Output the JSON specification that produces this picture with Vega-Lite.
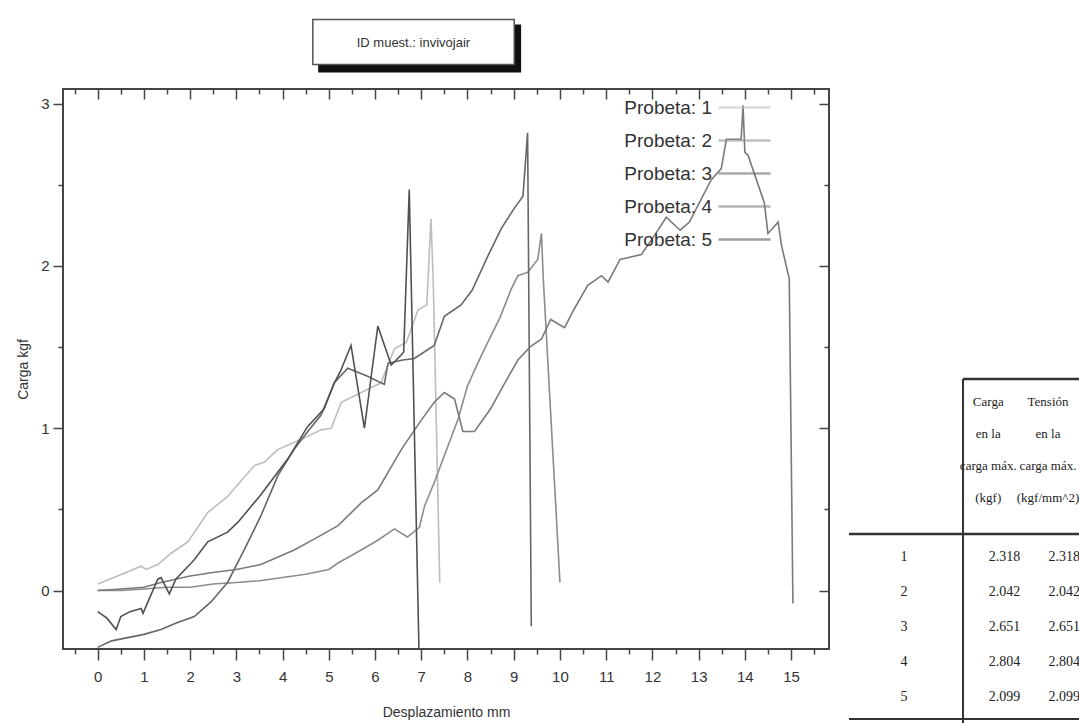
{
  "$schema": "https://vega.github.io/schema/vega-lite/v6.json",
  "autosize": {"type": "pad"},
  "padding": {"left": 15, "top": 17, "right": 0, "bottom": 0},
  "background": "white",
  "bounds": "flush",
  "spacing": 20,
  "config": {
    "view": {"stroke": "#444", "strokeWidth": 2},
    "font": "Liberation Sans",
    "axis": {"grid": false, "domain": false, "tickColor": "#444", "tickWidth": 1.5}
  },
  "datasets": {
    "curvas": [
      {"p": "Probeta: 1", "x": 0, "y": 0.04}, {"p": "Probeta: 1", "x": 0.43, "y": 0.09}, {"p": "Probeta: 1", "x": 0.94, "y": 0.15}, {"p": "Probeta: 1", "x": 1.05, "y": 0.13}, {"p": "Probeta: 1", "x": 1.3, "y": 0.16}, {"p": "Probeta: 1", "x": 1.59, "y": 0.23}, {"p": "Probeta: 1", "x": 1.95, "y": 0.3}, {"p": "Probeta: 1", "x": 2.38, "y": 0.48}, {"p": "Probeta: 1", "x": 2.81, "y": 0.58}, {"p": "Probeta: 1", "x": 3.39, "y": 0.77}, {"p": "Probeta: 1", "x": 3.6, "y": 0.79}, {"p": "Probeta: 1", "x": 3.9, "y": 0.87}, {"p": "Probeta: 1", "x": 4.4, "y": 0.93}, {"p": "Probeta: 1", "x": 4.83, "y": 0.99}, {"p": "Probeta: 1", "x": 5.05, "y": 1.0}, {"p": "Probeta: 1", "x": 5.27, "y": 1.16}, {"p": "Probeta: 1", "x": 5.7, "y": 1.22}, {"p": "Probeta: 1", "x": 6.13, "y": 1.28}, {"p": "Probeta: 1", "x": 6.42, "y": 1.49}, {"p": "Probeta: 1", "x": 6.68, "y": 1.53}, {"p": "Probeta: 1", "x": 6.93, "y": 1.73}, {"p": "Probeta: 1", "x": 7.12, "y": 1.76}, {"p": "Probeta: 1", "x": 7.21, "y": 2.29}, {"p": "Probeta: 1", "x": 7.26, "y": 1.9}, {"p": "Probeta: 1", "x": 7.4, "y": 0.05},
      {"p": "Probeta: 2", "x": 0, "y": 0}, {"p": "Probeta: 2", "x": 0.5, "y": 0.0}, {"p": "Probeta: 2", "x": 1, "y": 0.01}, {"p": "Probeta: 2", "x": 1.5, "y": 0.02}, {"p": "Probeta: 2", "x": 2, "y": 0.02}, {"p": "Probeta: 2", "x": 2.5, "y": 0.04}, {"p": "Probeta: 2", "x": 3, "y": 0.05}, {"p": "Probeta: 2", "x": 3.5, "y": 0.06}, {"p": "Probeta: 2", "x": 4, "y": 0.08}, {"p": "Probeta: 2", "x": 4.5, "y": 0.1}, {"p": "Probeta: 2", "x": 5, "y": 0.13}, {"p": "Probeta: 2", "x": 5.2, "y": 0.17}, {"p": "Probeta: 2", "x": 5.7, "y": 0.25}, {"p": "Probeta: 2", "x": 6.06, "y": 0.31}, {"p": "Probeta: 2", "x": 6.42, "y": 0.38}, {"p": "Probeta: 2", "x": 6.7, "y": 0.33}, {"p": "Probeta: 2", "x": 6.96, "y": 0.39}, {"p": "Probeta: 2", "x": 7.07, "y": 0.52}, {"p": "Probeta: 2", "x": 7.3, "y": 0.68}, {"p": "Probeta: 2", "x": 7.8, "y": 1.06}, {"p": "Probeta: 2", "x": 8.0, "y": 1.26}, {"p": "Probeta: 2", "x": 8.22, "y": 1.4}, {"p": "Probeta: 2", "x": 8.44, "y": 1.53}, {"p": "Probeta: 2", "x": 8.7, "y": 1.68}, {"p": "Probeta: 2", "x": 8.95, "y": 1.86}, {"p": "Probeta: 2", "x": 9.09, "y": 1.94}, {"p": "Probeta: 2", "x": 9.3, "y": 1.96}, {"p": "Probeta: 2", "x": 9.52, "y": 2.04}, {"p": "Probeta: 2", "x": 9.6, "y": 2.2}, {"p": "Probeta: 2", "x": 9.64, "y": 1.92}, {"p": "Probeta: 2", "x": 10.0, "y": 0.05},
      {"p": "Probeta: 3", "x": 0, "y": -0.35}, {"p": "Probeta: 3", "x": 0.3, "y": -0.31}, {"p": "Probeta: 3", "x": 0.65, "y": -0.29}, {"p": "Probeta: 3", "x": 1.0, "y": -0.27}, {"p": "Probeta: 3", "x": 1.37, "y": -0.24}, {"p": "Probeta: 3", "x": 1.7, "y": -0.2}, {"p": "Probeta: 3", "x": 2.09, "y": -0.16}, {"p": "Probeta: 3", "x": 2.45, "y": -0.07}, {"p": "Probeta: 3", "x": 2.81, "y": 0.05}, {"p": "Probeta: 3", "x": 3.17, "y": 0.25}, {"p": "Probeta: 3", "x": 3.53, "y": 0.46}, {"p": "Probeta: 3", "x": 3.9, "y": 0.71}, {"p": "Probeta: 3", "x": 4.25, "y": 0.87}, {"p": "Probeta: 3", "x": 4.6, "y": 1.0}, {"p": "Probeta: 3", "x": 4.83, "y": 1.08}, {"p": "Probeta: 3", "x": 5.12, "y": 1.28}, {"p": "Probeta: 3", "x": 5.41, "y": 1.37}, {"p": "Probeta: 3", "x": 5.84, "y": 1.32}, {"p": "Probeta: 3", "x": 6.2, "y": 1.27}, {"p": "Probeta: 3", "x": 6.28, "y": 1.4}, {"p": "Probeta: 3", "x": 6.6, "y": 1.42}, {"p": "Probeta: 3", "x": 6.85, "y": 1.43}, {"p": "Probeta: 3", "x": 7.28, "y": 1.51}, {"p": "Probeta: 3", "x": 7.5, "y": 1.69}, {"p": "Probeta: 3", "x": 7.86, "y": 1.76}, {"p": "Probeta: 3", "x": 8.1, "y": 1.85}, {"p": "Probeta: 3", "x": 8.44, "y": 2.06}, {"p": "Probeta: 3", "x": 8.73, "y": 2.23}, {"p": "Probeta: 3", "x": 9.0, "y": 2.35}, {"p": "Probeta: 3", "x": 9.2, "y": 2.43}, {"p": "Probeta: 3", "x": 9.3, "y": 2.82}, {"p": "Probeta: 3", "x": 9.38, "y": -0.22},
      {"p": "Probeta: 4", "x": 0, "y": 0}, {"p": "Probeta: 4", "x": 0.5, "y": 0.01}, {"p": "Probeta: 4", "x": 1, "y": 0.02}, {"p": "Probeta: 4", "x": 1.37, "y": 0.05}, {"p": "Probeta: 4", "x": 2, "y": 0.09}, {"p": "Probeta: 4", "x": 2.45, "y": 0.11}, {"p": "Probeta: 4", "x": 3.0, "y": 0.13}, {"p": "Probeta: 4", "x": 3.53, "y": 0.16}, {"p": "Probeta: 4", "x": 4.25, "y": 0.25}, {"p": "Probeta: 4", "x": 4.7, "y": 0.32}, {"p": "Probeta: 4", "x": 5.2, "y": 0.4}, {"p": "Probeta: 4", "x": 5.7, "y": 0.54}, {"p": "Probeta: 4", "x": 6.06, "y": 0.62}, {"p": "Probeta: 4", "x": 6.57, "y": 0.87}, {"p": "Probeta: 4", "x": 7.0, "y": 1.05}, {"p": "Probeta: 4", "x": 7.28, "y": 1.16}, {"p": "Probeta: 4", "x": 7.5, "y": 1.22}, {"p": "Probeta: 4", "x": 7.72, "y": 1.18}, {"p": "Probeta: 4", "x": 7.9, "y": 0.98}, {"p": "Probeta: 4", "x": 8.15, "y": 0.98}, {"p": "Probeta: 4", "x": 8.5, "y": 1.12}, {"p": "Probeta: 4", "x": 8.73, "y": 1.24}, {"p": "Probeta: 4", "x": 9.09, "y": 1.42}, {"p": "Probeta: 4", "x": 9.35, "y": 1.5}, {"p": "Probeta: 4", "x": 9.6, "y": 1.55}, {"p": "Probeta: 4", "x": 9.8, "y": 1.67}, {"p": "Probeta: 4", "x": 10.1, "y": 1.62}, {"p": "Probeta: 4", "x": 10.3, "y": 1.73}, {"p": "Probeta: 4", "x": 10.6, "y": 1.88}, {"p": "Probeta: 4", "x": 10.9, "y": 1.94}, {"p": "Probeta: 4", "x": 11.04, "y": 1.9}, {"p": "Probeta: 4", "x": 11.3, "y": 2.04}, {"p": "Probeta: 4", "x": 11.76, "y": 2.07}, {"p": "Probeta: 4", "x": 12.05, "y": 2.19}, {"p": "Probeta: 4", "x": 12.3, "y": 2.3}, {"p": "Probeta: 4", "x": 12.6, "y": 2.22}, {"p": "Probeta: 4", "x": 12.8, "y": 2.27}, {"p": "Probeta: 4", "x": 13.27, "y": 2.53}, {"p": "Probeta: 4", "x": 13.49, "y": 2.6}, {"p": "Probeta: 4", "x": 13.6, "y": 2.78}, {"p": "Probeta: 4", "x": 13.92, "y": 2.78}, {"p": "Probeta: 4", "x": 13.96, "y": 2.99}, {"p": "Probeta: 4", "x": 14.0, "y": 2.7}, {"p": "Probeta: 4", "x": 14.07, "y": 2.68}, {"p": "Probeta: 4", "x": 14.42, "y": 2.39}, {"p": "Probeta: 4", "x": 14.5, "y": 2.2}, {"p": "Probeta: 4", "x": 14.72, "y": 2.27}, {"p": "Probeta: 4", "x": 14.79, "y": 2.13}, {"p": "Probeta: 4", "x": 14.96, "y": 1.92}, {"p": "Probeta: 4", "x": 15.04, "y": -0.08},
      {"p": "Probeta: 5", "x": 0, "y": -0.13}, {"p": "Probeta: 5", "x": 0.2, "y": -0.17}, {"p": "Probeta: 5", "x": 0.4, "y": -0.24}, {"p": "Probeta: 5", "x": 0.5, "y": -0.16}, {"p": "Probeta: 5", "x": 0.7, "y": -0.13}, {"p": "Probeta: 5", "x": 0.94, "y": -0.11}, {"p": "Probeta: 5", "x": 0.98, "y": -0.14}, {"p": "Probeta: 5", "x": 1.3, "y": 0.07}, {"p": "Probeta: 5", "x": 1.37, "y": 0.08}, {"p": "Probeta: 5", "x": 1.55, "y": -0.02}, {"p": "Probeta: 5", "x": 1.69, "y": 0.07}, {"p": "Probeta: 5", "x": 2.09, "y": 0.19}, {"p": "Probeta: 5", "x": 2.38, "y": 0.3}, {"p": "Probeta: 5", "x": 2.81, "y": 0.36}, {"p": "Probeta: 5", "x": 3.03, "y": 0.42}, {"p": "Probeta: 5", "x": 3.53, "y": 0.59}, {"p": "Probeta: 5", "x": 4.11, "y": 0.81}, {"p": "Probeta: 5", "x": 4.54, "y": 1.01}, {"p": "Probeta: 5", "x": 4.9, "y": 1.12}, {"p": "Probeta: 5", "x": 5.12, "y": 1.28}, {"p": "Probeta: 5", "x": 5.25, "y": 1.35}, {"p": "Probeta: 5", "x": 5.48, "y": 1.51}, {"p": "Probeta: 5", "x": 5.77, "y": 1.0}, {"p": "Probeta: 5", "x": 6.06, "y": 1.63}, {"p": "Probeta: 5", "x": 6.35, "y": 1.39}, {"p": "Probeta: 5", "x": 6.56, "y": 1.45}, {"p": "Probeta: 5", "x": 6.62, "y": 1.47}, {"p": "Probeta: 5", "x": 6.74, "y": 2.47}, {"p": "Probeta: 5", "x": 6.95, "y": -0.36}
    ],
    "tabla": [
      {"probeta": 1, "col": "Probeta", "valor": "1"}, {"probeta": 1, "col": "Carga", "valor": "2.318"}, {"probeta": 1, "col": "Tension", "valor": "2.318"},
      {"probeta": 2, "col": "Probeta", "valor": "2"}, {"probeta": 2, "col": "Carga", "valor": "2.042"}, {"probeta": 2, "col": "Tension", "valor": "2.042"},
      {"probeta": 3, "col": "Probeta", "valor": "3"}, {"probeta": 3, "col": "Carga", "valor": "2.651"}, {"probeta": 3, "col": "Tension", "valor": "2.651"},
      {"probeta": 4, "col": "Probeta", "valor": "4"}, {"probeta": 4, "col": "Carga", "valor": "2.804"}, {"probeta": 4, "col": "Tension", "valor": "2.804"},
      {"probeta": 5, "col": "Probeta", "valor": "5"}, {"probeta": 5, "col": "Carga", "valor": "2.099"}, {"probeta": 5, "col": "Tension", "valor": "2.099"}
    ],
    "encabezado": [
      {"col": "Carga", "titulo": "Carga\nen la\ncarga máx.\n(kgf)"},
      {"col": "Tension", "titulo": "Tensión\nen la\ncarga máx.\n(kgf/mm^2)"}
    ],
    "uno": [{}]
  },
  "hconcat": [
    {
      "width": 766,
      "height": 560,
      "layer": [
        {
          "data": {"name": "curvas"},
          "mark": {"type": "line", "strokeWidth": 1.6, "interpolate": "linear"},
          "encoding": {
            "x": {
              "field": "x", "type": "quantitative",
              "scale": {"domain": [-0.75, 15.82], "nice": false, "zero": false},
              "axis": {
                "orient": "bottom", "title": "Desplazamiento mm",
                "values": [-0.5, 0, 0.5, 1, 1.5, 2, 2.5, 3, 3.5, 4, 4.5, 5, 5.5, 6, 6.5, 7, 7.5, 8, 8.5, 9, 9.5, 10, 10.5, 11, 11.5, 12, 12.5, 13, 13.5, 14, 14.5, 15, 15.5],
                "labelExpr": "datum.value % 1 === 0 ? format(datum.value, 'd') : ''",
                "tickSize": {"condition": {"test": "datum.value % 1 === 0", "value": 11}, "value": 5},
                "labelFont": "Liberation Sans", "labelFontSize": 15, "labelColor": "#333", "labelPadding": 9,
                "titleFont": "Liberation Sans", "titleFontSize": 14, "titleFontWeight": "normal", "titleColor": "#333", "titlePadding": 21
              }
            },
            "y": {
              "field": "y", "type": "quantitative",
              "scale": {"domain": [-0.36, 3.09], "nice": false, "zero": false},
              "axis": {
                "orient": "left", "title": "Carga kgf",
                "values": [0, 0.5, 1, 1.5, 2, 2.5, 3],
                "labelExpr": "datum.value % 1 === 0 ? format(datum.value, 'd') : ''",
                "tickSize": {"condition": {"test": "datum.value % 1 === 0", "value": 10}, "value": 5},
                "labelFont": "Liberation Sans", "labelFontSize": 15, "labelColor": "#333", "labelPadding": 4,
                "titleFont": "Liberation Sans", "titleFontSize": 14, "titleFontWeight": "normal", "titleColor": "#333",
                "titleX": -40, "titleY": 280, "titleBaseline": "middle", "titleAngle": 270
              }
            },
            "color": {
              "field": "p", "type": "nominal",
              "scale": {"domain": ["Probeta: 1", "Probeta: 2", "Probeta: 3", "Probeta: 4", "Probeta: 5"], "range": ["#bdbdbd", "#8c8c8c", "#666666", "#7a7a7a", "#505050"]},
              "legend": {
                "orient": "none", "legendX": 670, "legendY": 7, "title": null, "padding": 0,
                "symbolType": "M-2.6,0H2.6", "symbolSize": 400, "symbolStrokeWidth": 2.5, "symbolOpacity": 0.55,
                "labelFont": "Liberation Sans", "labelFontSize": 19, "labelColor": "#333",
                "labelAlign": "right", "labelOffset": -44, "rowPadding": 11
              }
            }
          }
        },
        {
          "data": {"name": "uno"},
          "mark": {"type": "rect", "fill": "#111"},
          "encoding": {
            "x": {
              "datum": 4.77, "type": "quantitative",
              "scale": {"domain": [-0.75, 15.82], "nice": false, "zero": false},
              "axis": {
                "orient": "top", "title": null, "labels": false,
                "values": [-0.5, 0, 0.5, 1, 1.5, 2, 2.5, 3, 3.5, 4, 4.5, 5, 5.5, 6, 6.5, 7, 7.5, 8, 8.5, 9, 9.5, 10, 10.5, 11, 11.5, 12, 12.5, 13, 13.5, 14, 14.5, 15, 15.5],
                "tickSize": {"condition": {"test": "datum.value % 1 === 0", "value": -10}, "value": -5}
              }
            },
            "x2": {"datum": 9.16},
            "y": {
              "datum": 3.487, "type": "quantitative",
              "scale": {"domain": [-0.36, 3.09], "nice": false, "zero": false},
              "axis": {
                "orient": "right", "title": null, "labels": false,
                "values": [0, 0.5, 1, 1.5, 2, 2.5, 3],
                "tickSize": {"condition": {"test": "datum.value % 1 === 0", "value": -10}, "value": -5}
              }
            },
            "y2": {"datum": 3.192}
          }
        },
        {
          "data": {"name": "uno"},
          "mark": {"type": "rect", "fill": "white", "stroke": "#555", "strokeWidth": 1.5},
          "encoding": {
            "x": {"datum": 4.654, "type": "quantitative", "axis": null},
            "x2": {"datum": 9.011},
            "y": {"datum": 3.518, "type": "quantitative", "axis": null},
            "y2": {"datum": 3.241}
          }
        },
        {
          "data": {"name": "uno"},
          "mark": {"type": "text", "text": "ID muest.: invivojair", "font": "Liberation Sans", "fontSize": 13, "color": "#333", "align": "center", "baseline": "middle"},
          "encoding": {
            "x": {"datum": 6.83, "type": "quantitative", "axis": null},
            "y": {"datum": 3.376, "type": "quantitative", "axis": null}
          }
        }
      ],
      "resolve": {"axis": {"x": "independent", "y": "independent"}}
    },
    {
      "width": 230,
      "height": 635,
      "view": {"stroke": null},
      "layer": [
        {
          "data": {"name": "tabla"},
          "transform": [{"filter": "datum.col === 'Probeta'"}],
          "mark": {"type": "text", "align": "center", "baseline": "middle", "dx": -55.5, "font": "Liberation Serif", "fontSize": 14, "color": "#222"},
          "encoding": {
            "x": {"field": "col", "type": "nominal", "scale": {"type": "point", "domain": ["Probeta", "Carga", "Tension"], "padding": 0.925, "align": 1}, "axis": null},
            "y": {"field": "probeta", "type": "quantitative", "scale": {"domain": [-12.371, 5.771], "reverse": true, "nice": false, "zero": false}, "axis": null},
            "text": {"field": "valor", "type": "nominal"}
          }
        },
        {
          "data": {"name": "tabla"},
          "transform": [{"filter": "datum.col !== 'Probeta'"}],
          "mark": {"type": "text", "align": "right", "baseline": "middle", "dx": 1, "font": "Liberation Serif", "fontSize": 14, "color": "#222"},
          "encoding": {
            "x": {"field": "col", "type": "nominal", "axis": null},
            "y": {"field": "probeta", "type": "quantitative", "axis": null},
            "text": {"field": "valor", "type": "nominal"}
          }
        },
        {
          "data": {"name": "encabezado"},
          "mark": {"type": "text", "align": "center", "baseline": "middle", "dx": -31, "font": "Liberation Serif", "fontSize": 13, "color": "#222", "lineBreak": "\n", "lineHeight": 32},
          "encoding": {
            "x": {"field": "col", "type": "nominal", "axis": null},
            "y": {"datum": -3.429, "type": "quantitative", "axis": null},
            "text": {"field": "titulo", "type": "nominal"}
          }
        },
        {
          "data": {"name": "uno"},
          "mark": {"type": "rule", "color": "#333", "strokeWidth": 2.5, "xOffset": 3.5},
          "encoding": {
            "x": {"datum": "Probeta", "type": "nominal", "axis": null},
            "x2": {"value": "width"},
            "y": {"datum": -4.086, "type": "quantitative", "axis": null}
          }
        },
        {
          "data": {"name": "uno"},
          "mark": {"type": "rule", "color": "#333", "strokeWidth": 2, "xOffset": 3.5},
          "encoding": {
            "x": {"datum": "Probeta", "type": "nominal", "axis": null},
            "y": {"datum": -4.086, "type": "quantitative", "axis": null},
            "y2": {"datum": 5.771}
          }
        },
        {
          "data": {"name": "uno"},
          "mark": {"type": "rule", "color": "#333", "strokeWidth": 2.5},
          "encoding": {
            "x": {"value": 0},
            "x2": {"value": "width"},
            "y": {"datum": 0.343, "type": "quantitative", "axis": null}
          }
        },
        {
          "data": {"name": "uno"},
          "mark": {"type": "rule", "color": "#333", "strokeWidth": 2},
          "encoding": {
            "x": {"value": 0},
            "x2": {"value": "width"},
            "y": {"datum": 5.629, "type": "quantitative", "axis": null}
          }
        }
      ]
    }
  ]
}
